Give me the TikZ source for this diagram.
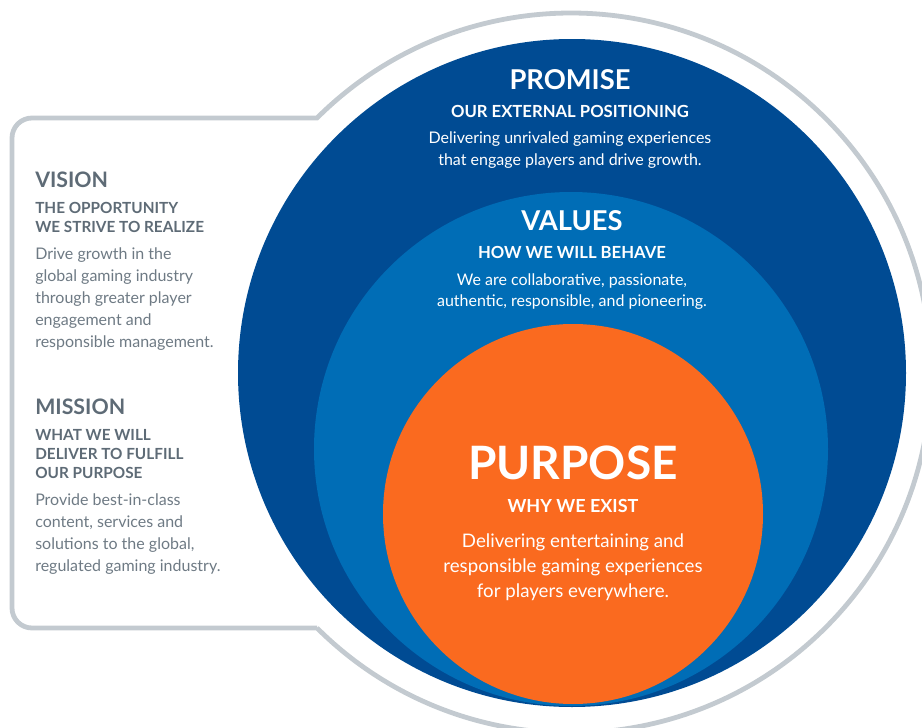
\documentclass[tikz,border=0pt]{standalone}
\usepackage{fontspec}
\setmainfont{Lato}
\definecolor{deepblue}{HTML}{004B93}
\definecolor{midblue}{HTML}{006DB6}
\definecolor{brandorange}{HTML}{FA6A1F}
\definecolor{frameline}{HTML}{C3CAD0}
\definecolor{slate}{HTML}{5E6B76}
\begin{document}
\begin{tikzpicture}[x=0.75pt,y=-0.75pt,
  every node/.style={inner sep=0pt, anchor=base},
  ringhead/.style={font=\bfseries\fontsize{20.5}{24}\selectfont, text=white},
  ringsub/.style={font=\bfseries\fontsize{12.5}{15}\selectfont, text=white},
  ringbody/.style={font=\fontsize{12}{15}\selectfont, text=white},
  corehead/.style={font=\bfseries\fontsize{34.5}{40}\selectfont, text=white},
  coresub/.style={font=\bfseries\fontsize{13.5}{16}\selectfont, text=white},
  corebody/.style={font=\fontsize{14}{17}\selectfont, text=white},
  sidehead/.style={font=\bfseries\fontsize{16}{19}\selectfont, text=slate, anchor=base west},
  sidesub/.style={font=\bfseries\fontsize{11.5}{14}\selectfont, text=slate, anchor=base west},
  sidebody/.style={font=\fontsize{12}{15}\selectfont, text=slate!90, anchor=base west},
  frame/.style={draw=frameline, line width=3.6pt}
]
\useasboundingbox (0,0) rectangle (922,728);

% side panel joined to the outer ring
\draw[frame] (317,628) [rounded corners=15pt] -- (12,628) -- (12,118) [sharp corners] -- (317,118)
  arc[start angle=225.1, end angle=494.9, radius=360];

% nested circles
\fill[deepblue] (572,373) circle[radius=334];
\fill[midblue] (571,449) circle[radius=257];
\fill[brandorange] (573,514) circle[radius=190];

% promise ring
\node[ringhead] (promise) at (570,89) {PROMISE};
\node[ringsub] (promisesub) at (570,117) {OUR EXTERNAL POSITIONING};
\node[ringbody] (promise1) at (570,143) {Delivering unrivaled gaming experiences};
\node[ringbody] (promise2) at (570,165) {that engage players and drive growth.};

% values ring
\node[ringhead] (values) at (572,230) {VALUES};
\node[ringsub] (valuessub) at (572,258) {HOW WE WILL BEHAVE};
\node[ringbody] (values1) at (572,285) {We are collaborative, passionate,};
\node[ringbody] (values2) at (572,306) {authentic, responsible, and pioneering.};

% purpose core
\node[corehead] (purpose) at (573,479) {PURPOSE};
\node[coresub] (purposesub) at (573,512) {WHY WE EXIST};
\node[corebody] (purpose1) at (573,547) {Delivering entertaining and};
\node[corebody] (purpose2) at (573,572) {responsible gaming experiences};
\node[corebody] (purpose3) at (573,597) {for players everywhere.};

% vision
\node[sidehead] (vision) at (35,187) {VISION};
\node[sidesub] (vision1) at (35,213) {THE OPPORTUNITY};
\node[sidesub] (vision2) at (35,232) {WE STRIVE TO REALIZE};
\node[sidebody] (visionb1) at (35,259) {Drive growth in the};
\node[sidebody] (visionb2) at (35,281) {global gaming industry};
\node[sidebody] (visionb3) at (35,303) {through greater player};
\node[sidebody] (visionb4) at (35,325) {engagement and};
\node[sidebody] (visionb5) at (35,347) {responsible management.};

% mission
\node[sidehead] (mission) at (35,414) {MISSION};
\node[sidesub] (mission1) at (35,440) {WHAT WE WILL};
\node[sidesub] (mission2) at (35,459) {DELIVER TO FULFILL};
\node[sidesub] (mission3) at (35,478) {OUR PURPOSE};
\node[sidebody] (missionb1) at (35,505) {Provide best-in-class};
\node[sidebody] (missionb2) at (35,527) {content, services and};
\node[sidebody] (missionb3) at (35,549) {solutions to the global,};
\node[sidebody] (missionb4) at (35,571) {regulated gaming industry.};
\end{tikzpicture}
\end{document}
